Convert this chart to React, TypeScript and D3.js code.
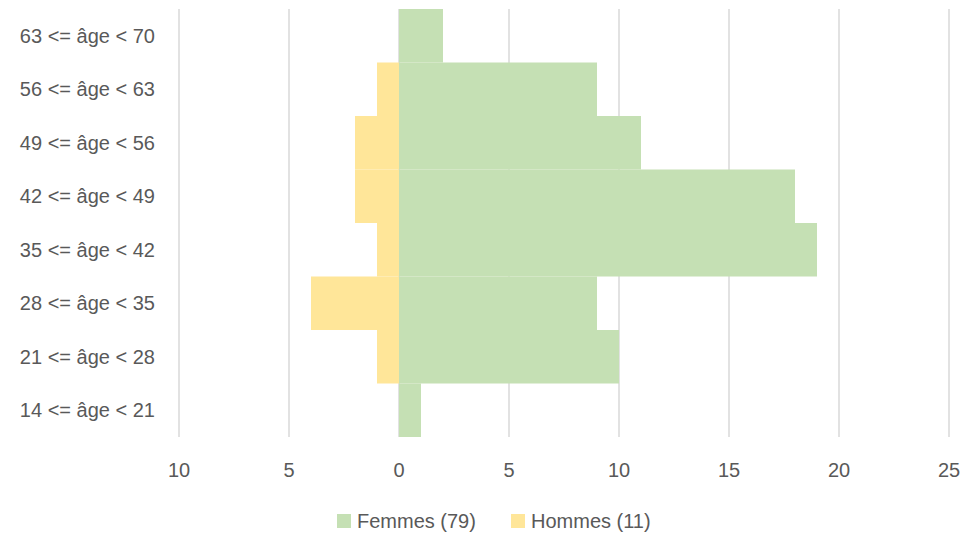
import React, { useEffect, useRef } from "react";
import * as d3 from "d3";

// age groups, bottom to top
const categories = [
  "14 <= âge < 21",
  "21 <= âge < 28",
  "28 <= âge < 35",
  "35 <= âge < 42",
  "42 <= âge < 49",
  "49 <= âge < 56",
  "56 <= âge < 63",
  "63 <= âge < 70",
];
const femmes = [1, 10, 9, 19, 18, 11, 9, 2];
const hommes = [0, 1, 4, 1, 2, 2, 1, 0];
const xTicks = [-10, -5, 0, 5, 10, 15, 20, 25];
const seriesNames = ["Femmes (79)", "Hommes (11)"];

const W = 964;
const H = 535;
const FONT = "'Liberation Sans', Arial, sans-serif";
const FS = "20px";

const App = () => {
  const ref = useRef<SVGSVGElement>(null);

  useEffect(() => {
    const svg = d3.select(ref.current);
    svg.selectAll("*").remove();

    const x = d3.scaleLinear().domain([-10, 25]).range([179, 949]);
    const y = d3
      .scaleBand()
      .domain([...categories].reverse())
      .range([9, 437])
      .padding(0);

    // grid
    svg
      .append("g")
      .selectAll("line")
      .data(xTicks)
      .enter()
      .append("line")
      .attr("x1", (d) => x(d))
      .attr("x2", (d) => x(d))
      .attr("y1", 9)
      .attr("y2", 437)
      .attr("stroke", "#d9d9d9")
      .attr("stroke-width", 1.5);

    // hommes (left side)
    svg
      .append("g")
      .selectAll("rect")
      .data(categories.map((c, i) => ({ c, v: hommes[i] })))
      .enter()
      .append("rect")
      .attr("x", (d) => x(-d.v))
      .attr("y", (d) => y(d.c)!)
      .attr("width", (d) => x(0) - x(-d.v))
      .attr("height", y.bandwidth())
      .attr("fill", "#ffe699");

    // femmes (right side)
    svg
      .append("g")
      .selectAll("rect")
      .data(categories.map((c, i) => ({ c, v: femmes[i] })))
      .enter()
      .append("rect")
      .attr("x", x(0))
      .attr("y", (d) => y(d.c)!)
      .attr("width", (d) => x(d.v) - x(0))
      .attr("height", y.bandwidth())
      .attr("fill", "#c5e0b4");

    // category labels
    svg
      .append("g")
      .selectAll("text")
      .data(categories)
      .enter()
      .append("text")
      .attr("x", 155)
      .attr("y", (d) => y(d)! + y.bandwidth() / 2)
      .attr("dy", "0.35em")
      .attr("text-anchor", "end")
      .style("font-family", FONT)
      .style("font-size", FS)
      .style("fill", "#595959")
      .text((d) => d);

    // x tick labels (absolute values)
    svg
      .append("g")
      .selectAll("text")
      .data(xTicks)
      .enter()
      .append("text")
      .attr("x", (d) => x(d))
      .attr("y", 477)
      .attr("text-anchor", "middle")
      .style("font-family", FONT)
      .style("font-size", FS)
      .style("fill", "#595959")
      .text((d) => Math.abs(d));

    // legend
    const legend = svg
      .append("g")
      .selectAll("g")
      .data(seriesNames)
      .enter()
      .append("g")
      .attr("transform", (d, i) => `translate(${i === 0 ? 337 : 511}, 514)`);
    legend
      .append("rect")
      .attr("width", 14)
      .attr("height", 14)
      .attr("fill", (d, i) => ["#c5e0b4", "#ffe699"][i]);
    legend
      .append("text")
      .attr("x", 20)
      .attr("y", 7)
      .attr("dy", "0.35em")
      .style("font-family", FONT)
      .style("font-size", FS)
      .style("fill", "#595959")
      .text((d) => d);
  }, []);

  return (
    <svg
      ref={ref}
      width={W}
      height={H}
      style={{ position: "absolute", left: 0, top: 0, background: "#fff" }}
    />
  );
};

export default App;
